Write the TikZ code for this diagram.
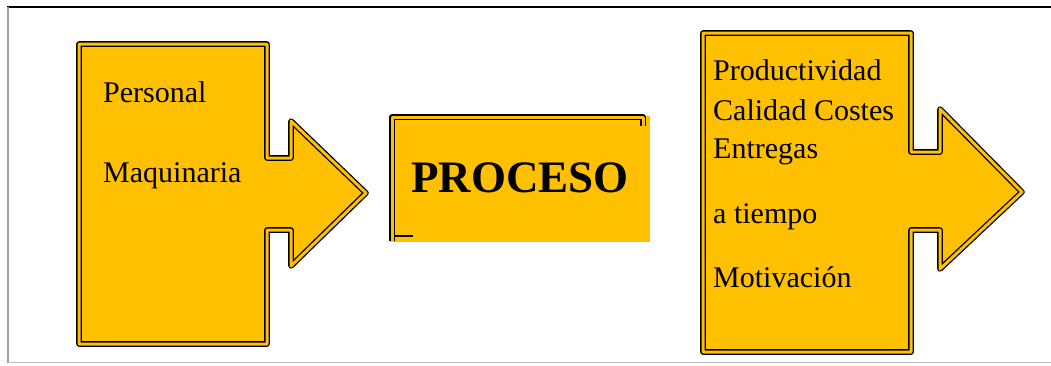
\documentclass[tikz,border=0pt]{standalone}
\usepackage{fontspec}
\setmainfont{Liberation Serif}
\definecolor{boxgold}{HTML}{FFC000}
\definecolor{framegray}{HTML}{A0A0A0}
\begin{document}
\begin{tikzpicture}[x=1pt,y=-1pt,
  arrowshape/.style={fill=boxgold, draw=black, line width=1.3pt, double=boxgold, double distance=3pt, line join=round},
  lbl/.style={anchor=base west, inner sep=0pt, font=\fontsize{30}{32}\selectfont},
  big/.style={anchor=base, inner sep=0pt, font=\fontsize{45}{48}\selectfont\bfseries}]
\useasboundingbox (0,0) rectangle (1051,365);
% frame
\coordinate (fTL) at (7,6.5);
\coordinate (fTR) at (1051,6.5);
\coordinate (fBL) at (7.5,362.5);
\coordinate (fBR) at (1051,362.5);
\draw[line width=2pt, black] (fTL) -- (fTR);
\draw[line width=2pt, framegray] (7.5,7) -- (fBL);
\draw[line width=1.5pt, framegray!70] (fBL) -- (fBR);
% left arrow
\draw[arrowshape] (79,44) -- (267,44) -- (267,158) -- (291,158) -- (291,121) -- (366,193) -- (291,266) -- (291,230) -- (267,230) -- (267,344) -- (79,344) -- cycle;
\node[lbl] (per) at (103,102) {Personal};
\node[lbl] (maq) at (103,182) {Maquinaria};
% process box
\fill[boxgold] (390,116) rectangle (650,242);
\draw[black, line width=1.3pt, double=boxgold, double distance=3pt, line join=round] (392,241) -- (392,117) -- (643,117) -- (643,126);
\draw[black, line width=1.1pt] (394,236) -- (413,236);
\node[big] (proc) at (520,192) {PROCESO};
% right arrow
\draw[arrowshape] (703,33) -- (911,33) -- (911,152) -- (940,152) -- (940,109) -- (1022,192) -- (940,269) -- (940,230) -- (911,230) -- (911,352) -- (703,352) -- cycle;
\node[lbl] (prod) at (713,80) {Productividad};
\node[lbl] (cal) at (713,120) {Calidad Costes};
\node[lbl] (ent) at (713,158) {Entregas};
\node[lbl] (tie) at (713,223) {a tiempo};
\node[lbl] (mot) at (713,287) {Motivación};
\end{tikzpicture}
\end{document}
